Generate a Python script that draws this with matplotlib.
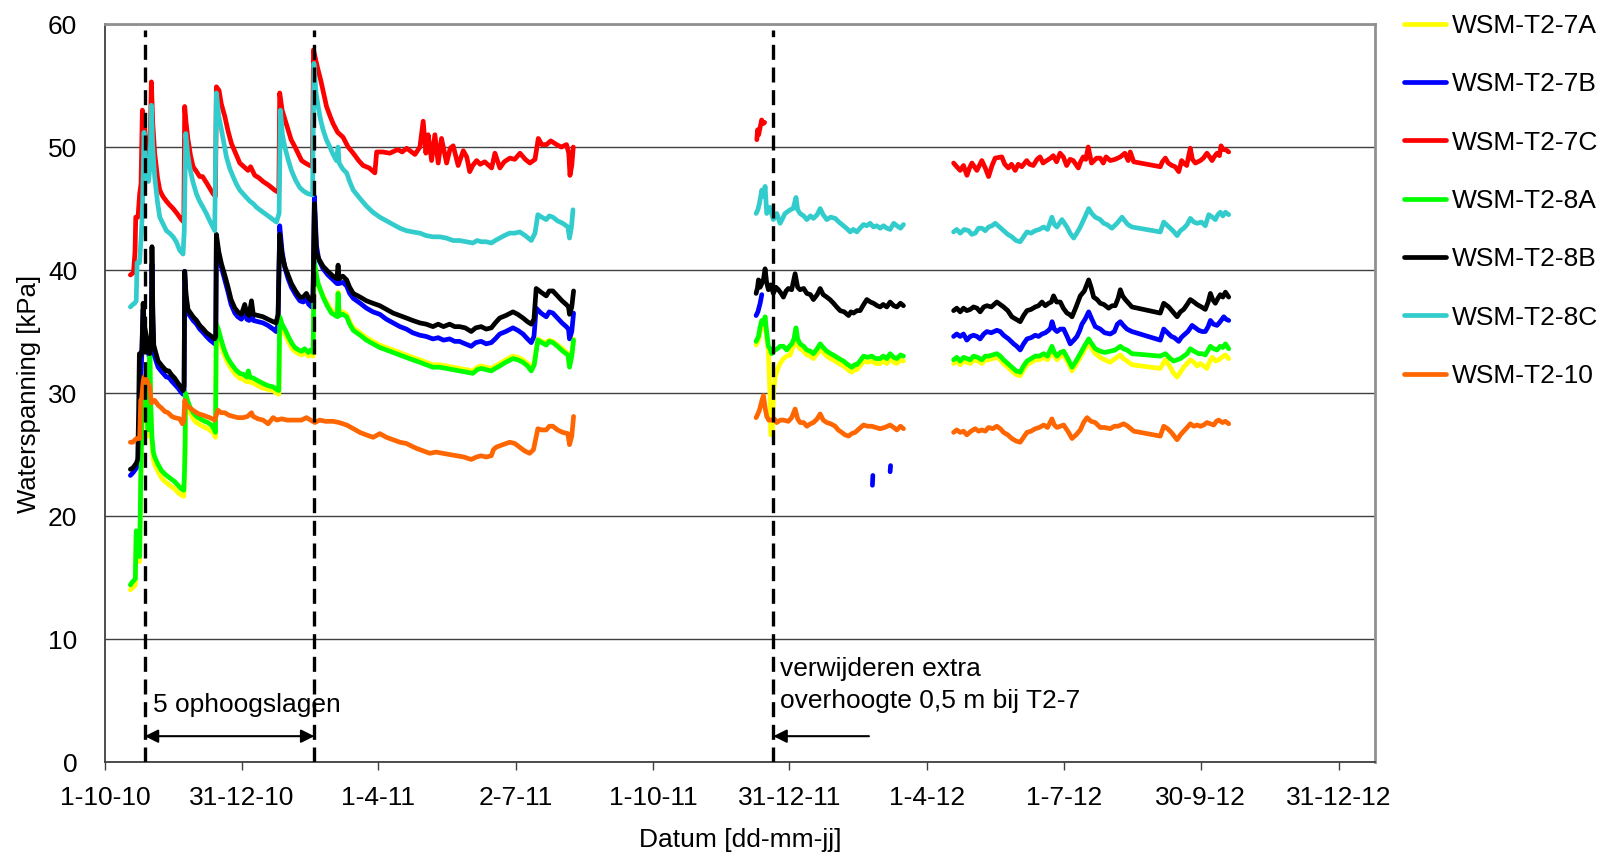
import numpy as np
import matplotlib
matplotlib.use("Agg")
import matplotlib.pyplot as plt

plt.rcParams["font.family"] = ["Liberation Sans", "DejaVu Sans"]

# x in days counted from 1-10-10
tick_days = [0, 91, 182, 274, 365, 456, 548, 639, 730, 822]
tick_labels = ["1-10-10", "31-12-10", "1-4-11", "2-7-11", "1-10-11",
               "31-12-11", "1-4-12", "1-7-12", "30-9-12", "31-12-12"]
y_ticks = [0, 10, 20, 30, 40, 50, 60]

# first / last fill layer, removal of extra surcharge
event_days = [26.5, 139.5, 445.3]

GAP = (np.nan, np.nan)

wsm_7a = [
    (16.9, 14.0), (18.0, 14.1), (20.2, 14.4), (20.8, 18.4), (21.5, 18.2), (22.5, 17.9), (23.1, 16.3),
    (23.8, 22.5), (24.7, 28.2), (25.5, 30.6), (26.5, 29.6), (27.8, 28.0), (28.7, 26.5), (29.5, 29.5),
    (29.9, 32.5), (30.5, 28.4), (31.3, 25.8), (32.2, 24.6), (33.1, 24.2), (35.3, 23.6), (37.6, 23.1),
    (40.0, 22.8), (42.0, 22.6), (44.2, 22.4), (46.4, 22.2), (48.7, 21.9), (50.9, 21.7), (52.5, 21.6),
    (53.0, 23.2), (53.4, 25.5), (53.6, 29.6), (55.0, 29.0), (56.5, 28.5), (58.7, 27.9), (60.9, 27.6),
    (63.5, 27.4), (66.5, 27.2), (68.5, 27.1), (70.9, 26.9), (72.5, 26.7), (73.6, 26.4), (74.2, 35.2),
    (75.5, 34.8), (77.0, 34.1), (79.2, 33.2), (81.5, 32.5), (84.0, 32.0), (87.0, 31.5), (89.8, 31.2),
    (92.5, 31.1), (94.5, 30.9), (95.5, 31.4), (96.5, 30.9), (99.0, 30.8), (101.8, 30.6), (105.0, 30.4),
    (108.5, 30.3), (112.0, 30.2), (114.2, 30.0), (115.8, 29.9), (116.4, 35.8), (118.0, 35.2), (120.2, 34.7),
    (122.5, 34.1), (124.7, 33.6), (126.5, 33.4), (129.0, 33.2), (131.0, 33.1), (133.0, 33.3), (135.5, 33.0),
    (137.0, 33.2), (138.7, 33.0), (139.3, 40.5), (141.0, 39.3), (142.0, 38.8), (143.8, 38.3), (145.3, 37.9),
    (148.0, 37.3), (150.9, 36.7), (153.5, 36.5), (154.8, 36.4), (155.3, 38.2), (156.0, 36.5), (158.5, 36.6),
    (161.0, 36.4), (163.0, 35.8), (165.4, 35.3), (170.0, 34.9), (174.2, 34.5), (178.5, 34.2), (183.1, 33.9),
    (187.5, 33.7), (192.0, 33.5), (196.5, 33.3), (200.8, 33.1), (205.0, 32.9), (209.8, 32.7), (214.0, 32.5),
    (218.5, 32.3), (223.0, 32.3), (227.4, 32.2), (232.0, 32.1), (236.2, 32.0), (240.5, 31.9), (245.1, 31.8),
    (248.0, 32.1), (250.6, 32.2), (254.0, 32.1), (257.4, 32.0), (260.0, 32.2), (263.0, 32.4), (267.0, 32.7),
    (271.8, 33.0), (275.0, 32.9), (278.5, 32.7), (281.5, 32.4), (284.0, 32.0), (286.0, 32.5), (288.4, 34.4),
    (291.0, 34.2), (294.0, 34.1), (296.0, 34.3), (298.4, 34.2), (301.5, 33.9), (305.0, 33.6), (308.4, 33.2),
    (309.5, 32.3), (311.0, 33.1), (312.2, 34.4),
    GAP,
    (433.8, 33.9), (435.4, 34.3), (436.5, 35.0), (437.6, 35.6), (438.8, 35.3), (439.8, 35.8), (440.8, 34.6),
    (442.0, 33.4), (443.0, 30.0), (443.6, 26.6), (444.6, 26.8), (445.5, 30.2), (446.5, 31.3), (448.0, 31.9),
    (449.8, 32.4), (452.0, 32.8), (454.2, 33.0), (456.5, 33.1), (457.6, 33.5), (459.0, 33.9), (460.4, 34.8),
    (461.5, 33.9), (463.1, 33.6), (465.5, 33.4), (467.6, 33.1), (470.0, 33.0), (472.0, 32.8), (474.5, 33.2),
    (476.5, 33.6), (478.5, 33.3), (480.9, 33.0), (483.5, 32.8), (486.5, 32.6), (489.0, 32.4), (492.0, 32.2),
    (495.0, 31.9), (497.6, 31.7), (499.5, 31.9), (500.9, 31.9), (503.0, 32.2), (505.4, 32.6), (508.0, 32.5),
    (510.9, 32.6), (513.5, 32.4), (516.5, 32.4), (518.5, 32.6), (520.9, 32.4), (523.1, 32.8), (525.5, 32.5),
    (527.6, 32.4), (530.0, 32.7), (532.0, 32.6),
    GAP,
    (565.4, 32.4), (567.5, 32.6), (569.8, 32.3), (572.0, 32.6), (574.2, 32.5), (576.5, 32.4), (578.7, 32.7),
    (581.5, 32.6), (584.2, 32.4), (586.5, 32.7), (588.7, 32.7), (591.5, 32.8), (594.2, 32.9), (596.5, 32.7),
    (598.7, 32.4), (601.5, 32.1), (604.2, 31.8), (607.0, 31.5), (609.8, 31.4), (612.0, 31.9), (614.3, 32.3),
    (617.0, 32.5), (619.8, 32.7), (622.5, 32.7), (625.4, 32.9), (628.0, 32.7), (630.9, 33.4), (632.5, 33.0),
    (634.3, 32.7), (636.5, 33.0), (638.7, 33.1), (641.5, 32.5), (644.3, 31.8), (647.0, 32.3), (649.8, 32.9),
    (652.5, 33.5), (655.4, 34.1), (657.5, 33.6), (659.8, 33.2), (663.1, 32.9), (666.0, 32.7), (669.8, 32.5),
    (673.0, 32.8), (676.5, 33.1), (678.5, 32.8), (681.0, 32.6), (683.1, 32.4), (684.2, 32.3), (703.1, 32.0),
    (706.5, 32.7), (709.8, 32.1), (712.0, 31.6), (714.3, 31.3), (716.5, 31.7), (718.7, 32.1), (721.0, 32.4),
    (723.1, 32.7), (725.5, 32.5), (727.6, 32.2), (729.8, 32.4), (732.0, 32.2), (734.2, 32.0), (735.8, 32.5),
    (737.6, 32.9), (740.0, 32.6), (742.0, 32.7), (744.0, 32.9), (746.5, 33.1), (748.7, 32.8),
]

wsm_7b = [
    (16.9, 23.3), (18.5, 23.5), (20.9, 23.9), (21.8, 24.3), (22.8, 25.6), (23.5, 30.0), (24.5, 33.0),
    (25.4, 36.8), (26.2, 35.0), (27.6, 34.0), (28.8, 33.3), (29.8, 32.8), (30.8, 33.6), (31.3, 40.5),
    (31.9, 35.8), (32.5, 33.3), (34.0, 32.6), (35.4, 32.1), (38.0, 31.7), (40.9, 31.3), (42.5, 31.3),
    (44.2, 31.0), (46.5, 30.7), (48.7, 30.4), (50.5, 30.1), (52.0, 29.9), (52.7, 30.2), (53.1, 39.9),
    (54.0, 37.7), (55.3, 36.5), (58.7, 35.9), (61.0, 35.6), (63.1, 35.2), (65.5, 34.9), (67.6, 34.6),
    (70.0, 34.3), (73.1, 34.0), (73.8, 34.2), (74.2, 42.5), (75.8, 41.2), (77.6, 40.2), (80.0, 39.1),
    (82.0, 38.2), (84.0, 37.2), (86.5, 36.5), (88.5, 36.2), (90.9, 36.0), (93.1, 36.6), (94.5, 36.0),
    (96.0, 35.9), (97.6, 36.7), (98.8, 35.9), (102.0, 35.8), (105.3, 35.7), (108.5, 35.5), (112.0, 35.2),
    (114.0, 35.0), (115.3, 35.6), (116.4, 43.6), (118.0, 41.5), (119.8, 40.2), (122.0, 39.3), (124.2, 38.6),
    (127.0, 38.0), (129.8, 37.5), (132.0, 37.4), (134.2, 37.6), (135.8, 37.2), (137.6, 37.0), (138.6, 37.4),
    (139.5, 46.0), (140.9, 42.0), (142.5, 40.8), (145.3, 40.1), (148.5, 39.6), (152.0, 39.2), (154.5, 38.9),
    (155.3, 39.8), (156.0, 38.9), (158.5, 39.0), (161.0, 38.7), (163.0, 38.1), (165.4, 37.7), (170.0, 37.3),
    (174.2, 36.9), (178.5, 36.6), (183.1, 36.4), (187.5, 36.0), (192.0, 35.7), (196.5, 35.4), (200.8, 35.2),
    (205.0, 34.9), (209.8, 34.7), (214.0, 34.6), (218.5, 34.4), (222.0, 34.5), (225.5, 34.3), (229.6, 34.4),
    (233.0, 34.2), (236.2, 34.2), (240.0, 34.0), (244.0, 33.8), (247.0, 34.1), (250.6, 34.2), (254.0, 34.0),
    (257.4, 34.1), (260.0, 34.4), (263.0, 34.8), (267.0, 35.0), (271.8, 35.3), (275.0, 35.1), (278.5, 34.8),
    (281.5, 34.4), (284.0, 34.1), (285.8, 34.6), (287.3, 36.9), (290.5, 36.5), (294.0, 36.2), (296.0, 36.6),
    (298.4, 36.5), (301.5, 36.1), (304.5, 35.7), (307.3, 35.4), (308.8, 35.2), (309.5, 34.4), (311.0, 35.0),
    (312.2, 36.5),
    GAP,
    (433.8, 36.3), (435.0, 36.6), (436.5, 37.3), (437.6, 38.0),
    GAP,
    (511.3, 22.5), (511.6, 23.3),
    GAP,
    (523.1, 23.6), (523.4, 24.1),
    GAP,
    (565.4, 34.6), (567.5, 34.8), (569.8, 34.6), (572.0, 34.8), (574.2, 34.3), (576.5, 34.6), (578.7, 34.7),
    (581.0, 34.6), (583.1, 34.4), (585.5, 34.8), (587.6, 35.0), (590.5, 34.9), (594.2, 35.1), (596.5, 35.0),
    (598.7, 34.7), (602.0, 34.4), (605.4, 34.0), (607.5, 33.8), (609.8, 33.5), (612.0, 34.0), (614.3, 34.4),
    (617.0, 34.5), (619.8, 34.7), (622.0, 34.6), (624.3, 34.8), (626.5, 34.9), (628.7, 35.1), (630.0, 35.3),
    (631.0, 35.8), (632.5, 35.2), (634.3, 35.0), (636.5, 35.2), (638.7, 35.2), (641.0, 34.6), (643.1, 34.0),
    (645.5, 34.3), (647.6, 34.6), (649.5, 35.1), (650.9, 35.6), (653.0, 36.0), (655.4, 36.6), (657.5, 36.0),
    (659.8, 35.4), (663.1, 35.2), (666.0, 34.9), (669.8, 34.8), (672.5, 35.0), (674.5, 35.6), (676.5, 35.8),
    (678.5, 35.5), (680.9, 35.2), (684.2, 35.0), (703.1, 34.3), (705.4, 35.2), (708.0, 34.9), (710.5, 34.6),
    (712.5, 34.5), (715.4, 34.2), (717.0, 34.5), (718.7, 34.7), (721.5, 35.0), (724.3, 35.5), (726.5, 35.3),
    (728.7, 35.1), (731.0, 35.0), (733.1, 35.0), (735.0, 35.4), (736.5, 35.9), (738.5, 35.6), (740.9, 35.5),
    (743.0, 35.8), (745.4, 36.2), (747.0, 36.0), (748.7, 35.9),
]

wsm_7c = [
    (16.9, 39.6), (19.0, 39.8), (20.0, 41.5), (20.5, 44.3), (22.0, 44.3), (23.1, 46.2), (24.0, 47.0),
    (24.9, 53.0), (26.0, 52.2), (27.5, 50.0), (28.7, 48.7), (30.0, 50.0), (30.9, 55.3), (31.8, 52.0),
    (33.1, 49.5), (35.0, 47.5), (36.5, 46.5), (38.5, 46.0), (40.9, 45.6), (43.0, 45.3), (45.4, 45.0),
    (48.0, 44.6), (50.9, 44.1), (52.5, 43.9), (53.1, 53.3), (54.0, 52.0), (55.3, 50.6), (57.0, 49.3),
    (58.7, 48.4), (61.0, 48.0), (63.1, 47.6), (65.0, 47.6), (67.6, 47.1), (70.0, 46.6), (72.0, 46.2),
    (73.6, 46.0), (74.2, 54.9), (76.0, 54.6), (77.5, 53.5), (79.8, 52.5), (82.0, 51.3), (84.2, 50.3),
    (87.0, 49.5), (89.8, 48.7), (92.5, 48.4), (95.3, 48.1), (97.0, 48.4), (99.8, 47.7), (102.5, 47.5),
    (105.3, 47.2), (109.0, 46.9), (113.0, 46.5), (115.8, 46.3), (116.4, 54.4), (118.0, 53.0), (120.0, 52.2),
    (122.0, 51.4), (124.0, 50.6), (126.6, 50.0), (129.0, 49.4), (131.0, 48.9), (133.5, 48.7), (136.4, 48.5),
    (138.2, 48.4), (138.9, 57.9), (141.5, 56.5), (143.8, 55.4), (147.6, 53.3), (150.0, 52.5), (152.0, 51.9),
    (155.0, 51.2), (158.6, 50.8), (162.0, 50.0), (165.4, 49.5), (169.0, 48.9), (172.0, 48.5), (176.0, 48.3),
    (179.8, 47.9), (181.0, 49.6), (185.0, 49.6), (189.8, 49.5), (195.0, 49.8), (198.0, 49.6), (201.0, 49.9),
    (206.5, 49.4), (209.8, 50.0), (212.0, 52.1), (213.8, 49.5), (215.3, 51.0), (217.6, 48.9), (219.8, 51.0),
    (222.0, 48.7), (224.2, 50.7), (227.6, 48.7), (230.0, 49.9), (232.0, 50.1), (235.3, 48.5), (238.7, 49.7),
    (241.0, 49.2), (243.0, 48.0), (245.0, 48.5), (247.6, 48.9), (250.0, 48.6), (253.0, 48.8), (257.6, 48.3),
    (259.8, 49.5), (263.1, 48.3), (266.0, 48.8), (269.8, 49.1), (273.0, 49.0), (276.5, 49.5), (280.0, 49.0),
    (283.1, 48.7), (286.5, 49.0), (288.7, 50.7), (291.0, 50.2), (294.2, 50.2), (297.0, 50.5), (300.9, 50.2),
    (304.0, 50.0), (307.5, 50.2), (309.0, 49.5), (309.8, 47.7), (311.0, 48.5), (312.0, 50.0),
    GAP,
    (434.3, 50.6), (434.8, 51.4), (435.5, 51.0), (436.5, 51.6), (437.5, 52.2), (438.5, 51.9), (439.5, 52.0),
    GAP,
    (565.4, 48.7), (567.5, 48.4), (569.8, 48.1), (572.0, 48.5), (574.3, 47.7), (576.0, 48.3), (577.6, 48.7),
    (580.9, 48.1), (584.2, 48.9), (586.5, 48.3), (588.7, 47.6), (591.0, 48.5), (593.1, 49.1), (597.5, 49.2),
    (599.5, 48.6), (601.9, 48.3), (604.0, 48.6), (606.4, 48.1), (608.5, 48.6), (610.8, 48.4), (614.1, 48.9),
    (616.0, 48.6), (618.5, 48.5), (621.0, 49.0), (623.0, 49.2), (625.0, 48.7), (627.4, 48.9), (630.0, 49.1),
    (631.8, 49.3), (634.0, 48.8), (636.3, 49.5), (638.5, 49.2), (640.7, 48.5), (643.0, 49.0), (645.1, 48.9),
    (648.5, 48.3), (650.0, 48.8), (651.8, 49.2), (653.5, 49.0), (655.1, 50.0), (657.3, 48.7), (660.7, 49.1),
    (663.1, 49.1), (665.1, 48.7), (667.0, 49.2), (669.8, 48.9), (673.0, 49.0), (676.5, 49.2), (679.5, 49.5),
    (681.7, 48.9), (683.1, 49.6), (685.4, 48.8), (703.1, 48.4), (704.5, 48.8), (706.5, 49.1), (708.4, 48.7),
    (710.9, 48.5), (713.0, 48.4), (715.4, 48.0), (717.3, 48.9), (718.7, 48.7), (720.7, 48.5), (723.1, 49.9),
    (724.5, 49.0), (726.5, 48.7), (729.8, 48.9), (731.8, 49.1), (734.2, 49.5), (737.6, 48.9), (739.0, 49.2),
    (740.9, 49.5), (742.5, 49.3), (743.6, 50.1), (745.0, 49.8), (746.5, 49.8), (748.7, 49.6),
]

wsm_8a = [
    (16.9, 14.4), (18.0, 14.6), (20.2, 14.9), (20.8, 18.8), (21.5, 18.6), (22.5, 18.3), (23.1, 16.7),
    (23.8, 22.9), (24.7, 28.6), (25.5, 31.0), (26.5, 30.0), (27.8, 28.5), (28.7, 27.0), (29.5, 30.0),
    (29.9, 33.0), (30.5, 29.0), (31.3, 26.4), (32.2, 25.2), (33.1, 24.8), (35.3, 24.2), (37.6, 23.7),
    (40.0, 23.4), (42.0, 23.2), (44.2, 23.0), (46.4, 22.8), (48.7, 22.5), (50.9, 22.2), (52.5, 22.1),
    (53.0, 23.7), (53.4, 26.0), (53.6, 30.0), (55.0, 29.4), (56.5, 28.9), (58.7, 28.4), (60.9, 28.1),
    (63.5, 27.9), (66.5, 27.7), (68.5, 27.6), (70.9, 27.4), (72.5, 27.1), (73.6, 26.8), (74.2, 35.6),
    (75.5, 35.2), (77.0, 34.5), (79.2, 33.6), (81.5, 32.9), (84.0, 32.4), (87.0, 31.9), (89.8, 31.6),
    (92.5, 31.5), (94.5, 31.3), (95.5, 31.8), (96.5, 31.3), (99.0, 31.2), (101.8, 31.0), (105.0, 30.8),
    (108.5, 30.6), (112.0, 30.5), (114.2, 30.3), (115.8, 30.2), (116.4, 36.2), (118.0, 35.6), (120.2, 35.1),
    (122.5, 34.5), (124.7, 34.0), (126.5, 33.7), (129.0, 33.5), (131.0, 33.4), (133.0, 33.6), (135.5, 33.3),
    (137.0, 33.5), (138.7, 33.3), (139.3, 40.8), (141.0, 39.5), (142.0, 38.9), (143.8, 38.3), (145.3, 37.8),
    (148.0, 37.1), (150.9, 36.5), (153.5, 36.3), (154.8, 36.2), (155.3, 38.1), (156.0, 36.3), (158.5, 36.4),
    (161.0, 36.2), (163.0, 35.6), (165.4, 35.1), (170.0, 34.7), (174.2, 34.3), (178.5, 34.0), (183.1, 33.7),
    (187.5, 33.5), (192.0, 33.3), (196.5, 33.1), (200.8, 32.9), (205.0, 32.7), (209.8, 32.5), (214.0, 32.3),
    (218.5, 32.1), (223.0, 32.1), (227.4, 32.0), (232.0, 31.9), (236.2, 31.8), (240.5, 31.7), (245.1, 31.6),
    (248.0, 31.9), (250.6, 32.0), (254.0, 31.9), (257.4, 31.8), (260.0, 32.0), (263.0, 32.2), (267.0, 32.5),
    (271.8, 32.8), (275.0, 32.7), (278.5, 32.5), (281.5, 32.2), (284.0, 31.8), (286.0, 32.3), (288.4, 34.3),
    (291.0, 34.1), (294.0, 33.9), (296.0, 34.2), (298.4, 34.1), (301.5, 33.8), (305.0, 33.4), (308.4, 33.1),
    (309.5, 32.1), (311.0, 33.0), (312.2, 34.3),
    GAP,
    (433.8, 34.2), (435.4, 34.6), (436.5, 35.4), (437.6, 35.9), (438.8, 35.6), (439.8, 36.2), (440.8, 35.0),
    (442.0, 33.8), (443.1, 33.6), (444.2, 33.2), (445.3, 33.4), (446.5, 33.5), (448.0, 33.6), (449.8, 33.8),
    (452.0, 33.8), (454.2, 33.5), (456.0, 33.8), (457.6, 34.0), (459.0, 34.4), (460.4, 35.3), (461.5, 34.4),
    (463.1, 34.0), (465.5, 33.8), (467.6, 33.5), (470.0, 33.4), (472.0, 33.2), (474.5, 33.6), (476.5, 34.0),
    (478.5, 33.7), (480.9, 33.4), (483.5, 33.2), (486.5, 33.0), (489.0, 32.8), (492.0, 32.6), (495.0, 32.3),
    (497.6, 32.1), (499.5, 32.3), (500.9, 32.3), (503.0, 32.6), (505.4, 33.0), (508.0, 32.9), (510.9, 33.0),
    (513.5, 32.8), (516.5, 32.8), (518.5, 33.0), (520.9, 32.8), (523.1, 33.2), (525.5, 32.9), (527.6, 32.8),
    (530.0, 33.1), (532.0, 33.0),
    GAP,
    (565.4, 32.7), (567.5, 32.9), (569.8, 32.6), (572.0, 32.9), (574.2, 32.8), (576.5, 32.7), (578.7, 33.0),
    (581.5, 32.9), (584.2, 32.7), (586.5, 33.0), (588.7, 33.0), (591.5, 33.1), (594.2, 33.2), (596.5, 33.0),
    (598.7, 32.7), (601.5, 32.4), (604.2, 32.1), (607.0, 31.8), (609.8, 31.7), (612.0, 32.2), (614.3, 32.6),
    (617.0, 32.8), (619.8, 33.0), (622.5, 33.0), (625.4, 33.2), (628.0, 33.0), (630.9, 33.8), (632.5, 33.3),
    (634.3, 33.0), (636.5, 33.3), (638.7, 33.4), (641.5, 32.8), (644.3, 32.1), (647.0, 32.6), (649.8, 33.2),
    (652.5, 33.8), (655.4, 34.4), (657.5, 34.0), (659.8, 33.6), (663.1, 33.4), (666.0, 33.3), (669.8, 33.4),
    (673.0, 33.5), (676.5, 33.8), (678.5, 33.6), (680.9, 33.5), (684.2, 33.2), (703.1, 33.0), (706.5, 33.2),
    (709.8, 32.8), (712.0, 32.6), (714.3, 32.7), (716.5, 32.8), (718.7, 33.0), (721.0, 33.2), (723.1, 33.6),
    (725.5, 33.4), (728.7, 33.2), (731.0, 33.2), (733.1, 33.1), (735.0, 33.5), (736.5, 33.8), (738.7, 33.6),
    (740.9, 33.5), (743.0, 33.8), (744.8, 33.7), (746.5, 34.0), (748.7, 33.6),
]

wsm_8b = [
    (16.9, 23.8), (18.5, 23.9), (20.9, 24.3), (21.8, 24.6), (22.4, 28.5), (22.9, 33.2), (23.8, 33.0),
    (24.6, 33.6), (25.4, 37.3), (26.2, 35.5), (27.6, 34.6), (28.8, 33.8), (29.8, 33.2), (30.8, 34.0),
    (31.3, 41.9), (31.9, 36.5), (32.5, 33.9), (34.0, 33.2), (35.4, 32.6), (38.0, 32.2), (40.9, 31.8),
    (42.5, 31.8), (44.2, 31.5), (46.5, 31.2), (48.7, 30.8), (50.5, 30.5), (52.0, 30.2), (52.7, 30.6),
    (53.1, 39.9), (54.0, 38.0), (55.3, 36.8), (58.7, 36.2), (61.0, 35.9), (63.1, 35.5), (65.5, 35.2),
    (67.6, 34.9), (70.0, 34.7), (73.1, 34.4), (73.8, 34.6), (74.2, 42.9), (75.8, 41.5), (77.6, 40.5),
    (80.0, 39.5), (82.0, 38.6), (84.0, 37.6), (86.5, 36.9), (88.5, 36.6), (90.9, 36.4), (93.1, 37.2),
    (94.5, 36.5), (96.0, 36.3), (97.6, 37.5), (98.8, 36.4), (102.0, 36.3), (105.3, 36.2), (108.5, 36.0),
    (112.0, 35.8), (114.0, 35.7), (115.3, 36.4), (116.4, 42.9), (118.0, 41.2), (119.8, 40.3), (122.0, 39.6),
    (124.2, 38.9), (127.0, 38.3), (129.8, 37.8), (132.0, 37.8), (134.2, 38.1), (135.8, 37.7), (137.6, 37.5),
    (138.6, 38.0), (139.5, 45.4), (140.9, 41.4), (142.5, 40.9), (145.3, 40.3), (148.5, 39.9), (152.0, 39.5),
    (154.5, 39.3), (155.3, 40.4), (156.0, 39.3), (158.5, 39.5), (161.0, 39.2), (163.0, 38.6), (165.4, 38.1),
    (170.0, 37.8), (174.2, 37.5), (178.5, 37.3), (183.1, 37.1), (187.5, 36.8), (192.0, 36.5), (196.5, 36.3),
    (200.8, 36.1), (205.0, 35.9), (209.8, 35.7), (214.0, 35.6), (218.5, 35.4), (222.0, 35.6), (225.5, 35.4),
    (229.6, 35.6), (233.0, 35.4), (236.2, 35.4), (240.0, 35.3), (244.0, 35.0), (247.0, 35.3), (250.6, 35.4),
    (254.0, 35.2), (257.4, 35.3), (260.0, 35.7), (263.0, 36.1), (267.0, 36.3), (271.8, 36.6), (275.0, 36.4),
    (278.5, 36.1), (281.5, 35.8), (284.0, 35.6), (285.8, 36.0), (287.3, 38.5), (290.5, 38.2), (294.0, 37.9),
    (296.0, 38.3), (298.4, 38.3), (301.5, 37.9), (304.5, 37.5), (307.3, 37.2), (308.8, 37.0), (309.5, 36.4),
    (311.0, 37.0), (312.2, 38.3),
    GAP,
    (433.8, 38.1), (434.8, 38.6), (435.4, 39.2), (436.5, 38.6), (437.6, 38.9), (438.8, 39.3), (439.8, 40.1),
    (440.8, 39.0), (442.0, 38.4), (443.5, 38.8), (445.3, 38.1), (447.0, 38.6), (448.7, 38.4), (450.5, 38.1),
    (452.0, 37.8), (453.8, 38.3), (455.3, 38.5), (457.5, 38.4), (459.8, 39.7), (461.5, 38.6), (463.1, 38.4),
    (465.5, 38.5), (467.6, 38.1), (470.0, 38.0), (472.0, 37.6), (474.5, 38.0), (476.5, 38.5), (478.5, 38.0),
    (480.9, 37.8), (483.0, 37.6), (485.4, 37.3), (487.5, 37.0), (489.8, 36.7), (492.5, 36.6), (495.4, 36.3),
    (497.0, 36.6), (498.7, 36.5), (501.0, 36.7), (503.1, 36.7), (505.5, 37.2), (507.6, 37.6), (510.0, 37.4),
    (512.0, 37.3), (514.5, 37.1), (516.5, 37.0), (518.5, 37.2), (520.9, 37.0), (523.1, 37.4), (525.5, 37.1),
    (527.6, 37.0), (530.0, 37.3), (532.0, 37.1),
    GAP,
    (565.4, 36.7), (567.5, 36.9), (569.8, 36.6), (572.0, 36.9), (574.2, 36.7), (576.5, 36.8), (578.7, 37.0),
    (581.0, 36.9), (583.1, 36.6), (585.5, 37.0), (587.6, 37.1), (590.5, 37.0), (594.2, 37.4), (596.5, 37.2),
    (598.7, 37.0), (601.5, 36.7), (604.2, 36.2), (607.0, 36.0), (609.8, 35.8), (612.0, 36.3), (614.3, 36.7),
    (617.0, 36.8), (619.8, 37.0), (622.0, 37.1), (624.3, 37.4), (626.5, 37.1), (628.7, 37.3), (630.5, 37.4),
    (632.0, 37.9), (634.0, 37.4), (636.5, 37.4), (638.5, 36.9), (640.9, 36.5), (642.5, 36.4), (644.3, 36.2),
    (647.0, 37.0), (649.8, 37.9), (652.5, 38.3), (655.4, 39.2), (657.0, 38.6), (658.7, 37.8), (661.0, 37.6),
    (663.1, 37.3), (665.5, 37.2), (668.7, 36.9), (671.0, 37.1), (673.1, 37.1), (675.0, 37.7), (676.5, 38.4),
    (678.0, 37.9), (679.8, 37.6), (682.0, 37.3), (684.2, 37.0), (703.1, 36.5), (705.4, 37.3), (708.7, 37.0),
    (711.5, 36.6), (714.3, 36.2), (716.5, 36.6), (718.7, 36.8), (721.0, 37.2), (723.1, 37.6), (725.5, 37.4),
    (727.6, 37.2), (730.5, 37.0), (733.1, 36.8), (735.0, 37.4), (736.5, 38.1), (738.0, 37.6), (739.8, 37.3),
    (741.5, 37.7), (743.1, 38.0), (744.8, 37.8), (746.5, 38.2), (748.7, 37.8),
]

wsm_8c = [
    (16.9, 37.0), (18.5, 37.2), (19.8, 37.3), (20.8, 37.5), (21.4, 40.6), (23.0, 40.6), (24.2, 42.9),
    (25.0, 45.1), (26.0, 51.2), (26.8, 49.5), (27.6, 47.9), (29.0, 47.2), (30.0, 48.5), (30.9, 53.4),
    (31.8, 50.0), (33.1, 47.6), (35.0, 45.5), (36.5, 44.3), (38.5, 43.8), (40.9, 43.2), (43.0, 43.0),
    (45.4, 42.7), (47.5, 42.3), (49.8, 41.6), (52.0, 41.3), (52.8, 43.2), (53.8, 51.1), (55.0, 49.5),
    (56.4, 48.4), (58.5, 47.2), (60.9, 46.2), (63.0, 45.6), (65.3, 45.1), (67.5, 44.6), (69.8, 44.0),
    (73.1, 43.2), (74.2, 54.4), (75.8, 52.5), (77.6, 51.4), (80.9, 49.2), (83.0, 48.3), (85.3, 47.6),
    (87.5, 47.0), (89.8, 46.5), (92.0, 46.2), (94.2, 45.9), (96.5, 45.6), (98.7, 45.4), (101.0, 45.1),
    (103.1, 44.9), (106.5, 44.6), (109.8, 44.3), (114.2, 43.9), (116.0, 44.6), (116.9, 53.0), (118.2, 51.0),
    (119.8, 50.0), (122.0, 49.0), (124.2, 48.1), (127.0, 47.3), (129.8, 46.7), (132.5, 46.4), (135.3, 46.2),
    (138.3, 46.1), (139.2, 56.8), (140.5, 54.5), (142.0, 53.3), (143.5, 52.3), (145.3, 51.4), (147.5, 50.6),
    (149.8, 50.0), (152.0, 49.4), (154.2, 48.9), (155.3, 50.0), (156.0, 48.7), (158.5, 48.2), (161.0, 47.9),
    (163.0, 47.2), (165.4, 46.5), (170.0, 45.8), (174.2, 45.2), (178.5, 44.7), (183.1, 44.3), (187.5, 44.0),
    (192.0, 43.7), (196.5, 43.4), (200.8, 43.2), (205.0, 43.1), (209.8, 43.0), (214.0, 42.8), (218.5, 42.7),
    (223.0, 42.7), (227.4, 42.6), (232.0, 42.4), (236.2, 42.4), (240.5, 42.3), (245.1, 42.2), (248.0, 42.4),
    (250.6, 42.3), (254.0, 42.3), (257.4, 42.2), (260.0, 42.4), (263.0, 42.6), (266.0, 42.8), (269.6, 43.0),
    (273.0, 43.0), (276.3, 43.1), (280.0, 42.8), (284.0, 42.4), (286.5, 43.0), (288.4, 44.5), (291.0, 44.3),
    (294.0, 44.1), (296.0, 44.4), (298.4, 44.3), (301.5, 44.0), (305.0, 43.8), (308.4, 43.5), (309.5, 42.6),
    (310.8, 43.5), (311.8, 44.9),
    GAP,
    (433.8, 44.6), (435.0, 44.9), (436.0, 45.4), (437.6, 46.5), (438.8, 46.0), (439.8, 46.8), (440.9, 44.6),
    (443.1, 45.1), (445.3, 44.1), (447.6, 44.6), (449.8, 43.8), (451.5, 44.2), (453.1, 44.6), (456.5, 44.9),
    (458.5, 45.0), (460.4, 45.9), (461.5, 44.9), (463.1, 44.6), (465.5, 44.4), (467.6, 44.1), (470.0, 44.4),
    (472.0, 44.2), (474.5, 44.5), (476.5, 45.0), (478.5, 44.5), (480.9, 44.1), (483.5, 44.3), (486.5, 44.2),
    (489.0, 43.9), (492.0, 43.6), (494.0, 43.4), (496.5, 43.1), (498.5, 43.3), (500.9, 43.1), (503.0, 43.4),
    (505.4, 43.7), (507.5, 43.6), (509.8, 43.8), (512.0, 43.5), (514.2, 43.6), (516.5, 43.4), (518.7, 43.6),
    (521.0, 43.4), (523.1, 43.3), (525.5, 43.8), (527.6, 43.6), (530.0, 43.4), (532.0, 43.7),
    GAP,
    (565.4, 43.1), (567.5, 43.3), (569.8, 43.0), (572.5, 43.3), (575.4, 43.2), (577.5, 42.9), (579.8, 43.0),
    (582.0, 43.4), (584.2, 43.4), (586.5, 43.2), (588.7, 43.5), (591.0, 43.6), (593.1, 43.8), (596.0, 43.5),
    (598.7, 43.2), (601.5, 42.9), (604.2, 42.7), (607.0, 42.4), (609.8, 42.3), (612.0, 42.7), (614.3, 43.1),
    (617.0, 43.0), (619.8, 43.2), (622.5, 43.3), (625.4, 43.5), (628.0, 43.3), (630.9, 44.3), (632.5, 43.7),
    (634.2, 43.5), (637.6, 44.1), (640.9, 43.5), (643.0, 43.0), (645.4, 42.6), (647.5, 43.0), (649.8, 43.5),
    (652.5, 44.2), (655.4, 45.0), (657.5, 44.6), (659.8, 44.3), (663.1, 44.1), (665.4, 43.8), (667.5, 43.7),
    (670.9, 43.4), (674.3, 43.8), (677.6, 44.3), (679.5, 44.0), (681.5, 43.7), (684.2, 43.5), (703.1, 43.1),
    (705.4, 43.9), (708.9, 43.5), (711.5, 43.2), (714.3, 42.8), (716.5, 43.2), (718.7, 43.4), (721.0, 43.7),
    (723.1, 44.2), (725.5, 43.9), (727.6, 43.8), (730.5, 43.9), (733.1, 43.6), (735.4, 44.5), (737.8, 44.3),
    (739.8, 44.1), (741.5, 44.5), (743.1, 44.7), (744.8, 44.4), (746.5, 44.7), (748.7, 44.5),
]

wsm_10 = [
    (16.9, 26.0), (18.5, 26.0), (20.9, 26.3), (23.1, 26.3), (23.8, 29.4), (24.5, 29.6), (25.3, 30.8),
    (26.0, 31.3), (27.6, 31.1), (29.8, 30.5), (30.9, 29.2), (33.1, 29.4), (35.5, 29.0), (37.5, 28.8),
    (39.8, 28.5), (42.0, 28.4), (44.5, 28.1), (46.4, 28.0), (49.8, 27.9), (51.6, 27.5), (52.5, 27.7),
    (53.1, 29.4), (54.5, 29.0), (56.4, 28.8), (59.8, 28.5), (62.5, 28.3), (65.3, 28.2), (67.5, 28.1),
    (69.8, 28.0), (73.1, 27.8), (75.3, 28.6), (77.5, 28.4), (79.8, 28.4), (82.5, 28.2), (85.3, 28.1),
    (88.5, 28.0), (92.0, 28.0), (95.0, 28.1), (97.6, 28.4), (98.7, 28.1), (102.0, 27.9), (105.3, 27.8),
    (108.7, 27.5), (112.0, 28.0), (114.5, 27.8), (117.6, 27.9), (121.5, 27.8), (125.3, 27.8), (130.9, 27.8),
    (134.2, 28.0), (137.0, 27.8), (139.8, 27.6), (143.0, 27.8), (147.0, 27.7), (152.0, 27.7), (156.0, 27.6),
    (161.0, 27.4), (165.5, 27.1), (169.8, 26.8), (174.0, 26.6), (178.7, 26.4), (183.1, 26.7), (187.5, 26.4),
    (192.0, 26.2), (196.5, 26.0), (200.8, 25.9), (204.0, 25.7), (207.5, 25.5), (212.0, 25.3), (216.4, 25.1),
    (220.5, 25.2), (225.2, 25.1), (229.5, 25.0), (234.1, 24.9), (239.0, 24.8), (244.0, 24.6), (247.5, 24.8),
    (250.6, 24.9), (254.0, 24.8), (257.4, 24.9), (258.8, 25.4), (260.7, 25.6), (265.0, 25.8), (269.6, 26.0),
    (273.0, 25.9), (276.3, 25.6), (279.5, 25.3), (282.9, 25.1), (285.5, 25.4), (288.4, 27.1), (291.0, 27.0),
    (294.0, 27.0), (296.0, 27.3), (298.4, 27.3), (301.5, 27.0), (305.0, 26.8), (308.4, 26.7), (309.5, 25.8),
    (311.0, 26.5), (312.2, 28.1),
    GAP,
    (433.8, 28.0), (435.0, 28.3), (436.0, 28.6), (437.5, 29.3), (438.7, 29.8), (439.8, 28.8), (440.9, 28.1),
    (442.2, 27.8), (444.2, 27.8), (446.0, 27.9), (447.6, 27.6), (450.0, 27.8), (452.0, 27.8), (455.3, 27.7),
    (457.5, 28.0), (459.8, 28.7), (461.5, 27.9), (463.1, 27.6), (465.5, 27.6), (467.6, 27.3), (470.0, 27.5),
    (472.0, 27.6), (474.5, 27.9), (476.5, 28.3), (478.5, 27.8), (480.9, 27.6), (483.5, 27.5), (486.5, 27.3),
    (488.5, 27.0), (490.9, 26.8), (493.0, 26.6), (495.4, 26.5), (497.5, 26.7), (499.8, 26.8), (502.5, 27.1),
    (505.4, 27.4), (508.0, 27.3), (510.9, 27.3), (513.5, 27.2), (516.5, 27.1), (519.5, 27.2), (523.1, 27.4),
    (525.5, 27.2), (527.6, 27.0), (530.0, 27.3), (532.0, 27.1),
    GAP,
    (565.4, 26.8), (567.5, 27.0), (569.8, 26.8), (572.0, 26.9), (574.2, 26.6), (577.0, 26.9), (579.8, 27.1),
    (582.0, 26.9), (584.2, 27.0), (586.5, 26.9), (588.7, 27.2), (591.5, 27.1), (594.2, 27.3), (596.5, 27.1),
    (598.7, 26.8), (601.5, 26.6), (604.2, 26.3), (607.0, 26.1), (609.8, 26.0), (612.0, 26.4), (614.3, 26.8),
    (617.0, 26.9), (619.8, 27.1), (622.5, 27.2), (625.4, 27.4), (628.0, 27.2), (630.9, 27.9), (632.5, 27.4),
    (634.3, 27.2), (636.5, 27.3), (638.7, 27.4), (641.5, 26.9), (644.3, 26.3), (647.0, 26.6), (649.8, 27.0),
    (652.0, 27.6), (654.3, 28.0), (657.0, 27.7), (659.8, 27.6), (663.1, 27.2), (666.0, 27.2), (669.8, 27.1),
    (672.5, 27.3), (675.0, 27.3), (678.7, 27.5), (681.5, 27.3), (685.4, 26.9), (703.1, 26.5), (705.4, 27.3),
    (708.0, 27.1), (710.5, 26.8), (714.3, 26.2), (716.5, 26.6), (718.7, 26.9), (721.0, 27.2), (723.1, 27.5),
    (725.5, 27.3), (727.6, 27.4), (729.8, 27.3), (732.0, 27.4), (734.2, 27.6), (736.5, 27.5), (738.7, 27.4),
    (740.5, 27.7), (742.0, 27.8), (744.5, 27.6), (746.5, 27.7), (748.7, 27.5),
]

series = [
    ("WSM-T2-7A", wsm_7a, "#ffff00"),
    ("WSM-T2-7B", wsm_7b, "#0000ff"),
    ("WSM-T2-7C", wsm_7c, "#ff0000"),
    ("WSM-T2-8A", wsm_8a, "#00ff00"),
    ("WSM-T2-8B", wsm_8b, "#000000"),
    ("WSM-T2-8C", wsm_8c, "#33cccc"),
    ("WSM-T2-10", wsm_10, "#ff6600"),
]

fig = plt.figure(figsize=(16.03, 8.56), dpi=100)
ax = fig.add_axes([0.0655, 0.1098, 0.7923, 0.8621])

for name, pts, color in series:
    arr = np.array(pts, dtype=float)
    ax.plot(arr[:, 0], arr[:, 1], color=color, lw=3.4, label=name,
            solid_joinstyle="round", solid_capstyle="round")

# fill-up period and surcharge removal
for d in event_days:
    ax.axvline(d, ymin=0, ymax=0.992, color="black", lw=2.4,
               linestyle=(0, (4.5, 2.3)), zorder=5)

ax.annotate("", xy=(event_days[0], 2.1), xytext=(event_days[1], 2.1),
            arrowprops=dict(arrowstyle="<|-|>", color="black", lw=1.5,
                            mutation_scale=20, shrinkA=0, shrinkB=0))
ax.text(32, 4.6, "5 ophoogslagen", fontsize=19, ha="left", va="center")

ax.annotate("", xy=(event_days[2], 2.1), xytext=(509, 2.1),
            arrowprops=dict(arrowstyle="-|>", color="black", lw=1.5,
                            mutation_scale=20, shrinkA=0, shrinkB=0))
ax.text(449.7, 7.6, "verwijderen extra", fontsize=19, ha="left", va="center")
ax.text(449.7, 5.0, "overhoogte 0,5 m bij T2-7", fontsize=19, ha="left", va="center")

ax.set_xlim(0, 846.2)
ax.set_ylim(0, 60)
ax.set_xticks(tick_days, tick_labels)
ax.set_yticks(y_ticks)
ax.tick_params(axis="x", length=6, width=1, color="#404040", pad=11, labelsize=19)
ax.tick_params(axis="y", length=0, pad=20, labelsize=19)
ax.grid(axis="y", color="#404040", lw=1.0)
ax.set_axisbelow(True)

for side in ["left", "bottom"]:
    ax.spines[side].set_color("#404040")
    ax.spines[side].set_linewidth(1.3)
for side in ["top", "right"]:
    ax.spines[side].set_color("#909090")
    ax.spines[side].set_linewidth(2.0)

fig.text(29 / 1603, 0.5397, "Waterspanning [kPa]", rotation=90,
         fontsize=18.5, ha="center", va="center")
fig.text(740 / 1603, 1 - 840 / 856, "Datum [dd-mm-jj]", fontsize=19,
         ha="center", va="center")

ax.legend(loc="upper left", bbox_to_anchor=(1404 / 1603, 1 - 14 / 856),
          bbox_transform=fig.transFigure, frameon=False, fontsize=19,
          handlelength=1.6, handletextpad=0.2, labelspacing=1.30,
          borderaxespad=0, borderpad=0)

fig.savefig("out.png", dpi=100)
